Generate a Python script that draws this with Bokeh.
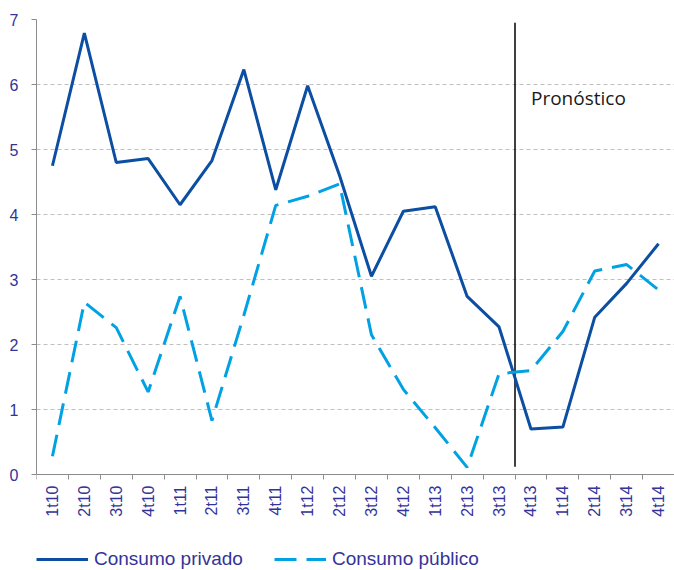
import math
from bokeh.plotting import figure
from bokeh.models import (Range1d, FixedTicker, Legend, LegendItem, ColumnDataSource)
from bokeh.core.properties import value
from bokeh.embed import file_html
from bokeh.resources import INLINE

# ---- data ----
quarters = ["1t10", "2t10", "3t10", "4t10", "1t11", "2t11", "3t11", "4t11",
            "1t12", "2t12", "3t12", "4t12", "1t13", "2t13", "3t13", "4t13",
            "1t14", "2t14", "3t14", "4t14"]
consumo_privado = [4.75, 6.79, 4.80, 4.86, 4.15, 4.83, 6.23, 4.38,
                   5.98, 4.60, 3.05, 4.05, 4.12, 2.74, 2.27, 0.70,
                   0.73, 2.42, 2.94, 3.55]
consumo_publico = [0.28, 2.65, 2.26, 1.27, 2.74, 0.83, 2.45, 4.14,
                   4.28, 4.47, 2.15, 1.31, 0.72, 0.11, 1.55, 1.60,
                   2.20, 3.13, 3.23, 2.84]
y_ticks = [0, 1, 2, 3, 4, 5, 6, 7]
forecast_start = "4t13"
forecast_label = "Pronóstico"

# ---- derived positions ----
n = len(quarters)
centers = [i + 0.5 for i in range(n)]
bounds = list(range(n + 1))
src = ColumnDataSource(dict(x=centers, priv=consumo_privado, pub=consumo_publico))

NAVY = "#333399"
C_PRIV = "#0B4EA2"
C_PUB = "#00A2E3"

H, TOP = 570, 19
px_per_unit = (474 - TOP) / (y_ticks[-1] - y_ticks[0])
y_start = -(H - 474) / px_per_unit

p = figure(width=674, height=H, output_backend="svg", toolbar_location=None,
           x_range=Range1d(0, n), y_range=Range1d(y_start, y_ticks[-1]),
           min_border_left=36, min_border_right=0, min_border_top=TOP,
           min_border_bottom=0)
p.outline_line_color = None
p.background_fill_color = "white"
p.border_fill_color = "white"

# grid
p.xgrid.grid_line_color = None
p.ygrid.ticker = FixedTicker(ticks=y_ticks[1:])
p.ygrid.grid_line_color = "#BFBFBF"
p.ygrid.grid_line_dash = "4 3"
p.ygrid.grid_line_width = 1

# y axis
p.yaxis.ticker = FixedTicker(ticks=y_ticks)
p.yaxis.bounds = (y_ticks[0], y_ticks[-1])
p.yaxis.axis_line_color = "#8C8C8C"
p.yaxis.major_tick_line_color = "#8C8C8C"
p.yaxis.major_tick_in = 0
p.yaxis.major_tick_out = 5
p.yaxis.minor_tick_line_color = None
p.yaxis.major_label_text_color = NAVY
p.yaxis.major_label_text_font = "Liberation Sans"
p.yaxis.major_label_text_font_size = "16px"
p.yaxis.major_label_standoff = 13

# x axis (fixed at y = 0 inside the frame)
p.xaxis.fixed_location = y_ticks[0]
p.xaxis.ticker = FixedTicker(ticks=centers, minor_ticks=bounds)
p.xaxis.major_label_overrides = {c: q for c, q in zip(centers, quarters)}
p.xaxis.major_label_orientation = math.pi / 2
p.xaxis.axis_line_color = "#8C8C8C"
p.xaxis.major_tick_line_color = None
p.xaxis.minor_tick_line_color = "#8C8C8C"
p.xaxis.minor_tick_in = 0
p.xaxis.minor_tick_out = 5
p.xaxis.major_label_text_color = NAVY
p.xaxis.major_label_text_font = "Liberation Sans"
p.xaxis.major_label_text_font_size = "16px"
p.xaxis.major_label_standoff = 5

# forecast divider
fx = quarters.index(forecast_start)
p.segment(x0=[fx], y0=[0.12], x1=[fx], y1=[6.95], line_color="black", line_width=1.5)
p.text(x=[fx + 0.5], y=[5.8], text=[forecast_label], text_font=value("Open Sans"),
       text_font_size="19px", text_color="#1A1A1A", text_align="left",
       text_baseline="middle")

r1 = p.line("x", "priv", source=src, line_color=C_PRIV, line_width=3)
r2 = p.line("x", "pub", source=src, line_color=C_PUB, line_width=3, line_dash="22 10")

legend = Legend(items=[LegendItem(label="Consumo privado", renderers=[r1]),
                       LegendItem(label="Consumo público", renderers=[r2])],
                orientation="horizontal", location=(0, 0),
                label_text_font="Liberation Sans", label_text_font_size="19px",
                label_text_color=NAVY, glyph_width=52, glyph_height=22,
                label_standoff=6, spacing=31, padding=0, margin=0,
                border_line_color=None, background_fill_alpha=0)
p.add_layout(legend, "center")

open("out.html", "w").write(file_html(p, INLINE))
